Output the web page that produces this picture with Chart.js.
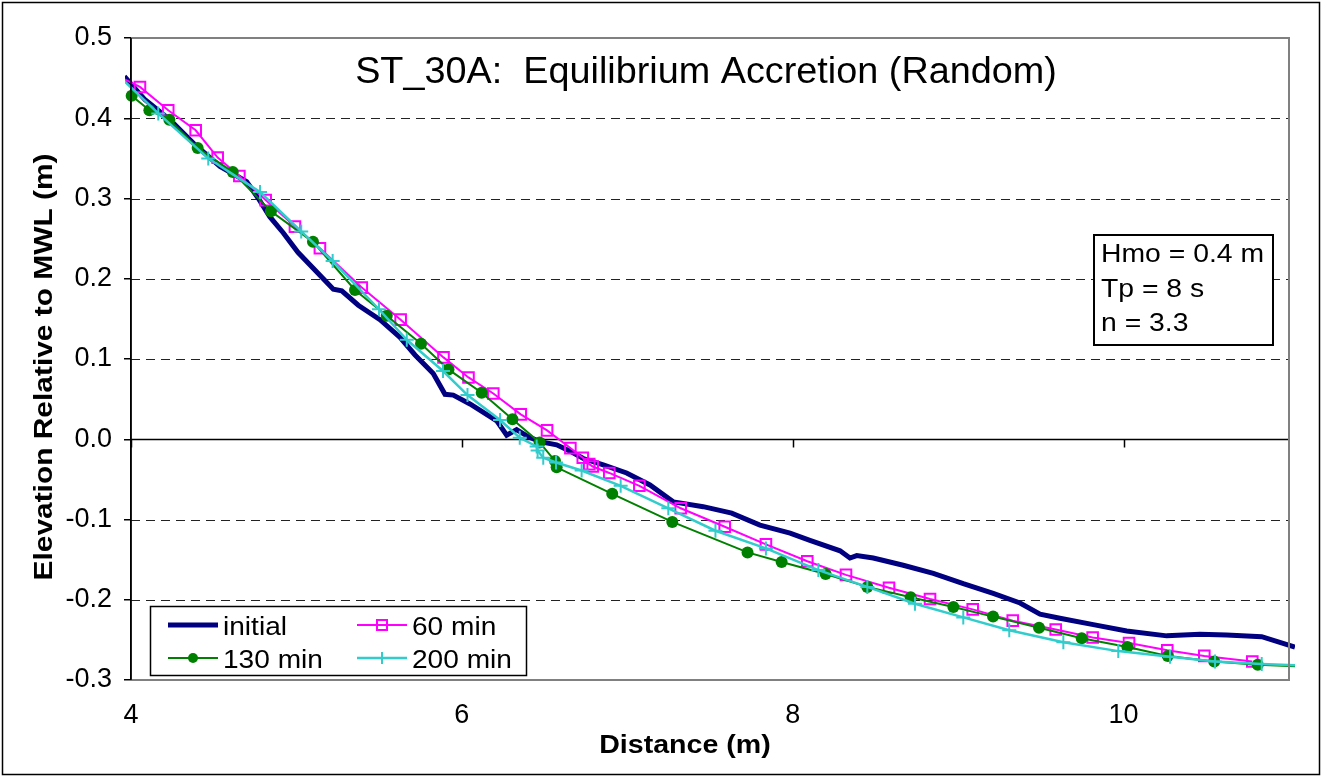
<!DOCTYPE html>
<html>
<head>
<meta charset="utf-8">
<script src="https://cdn.jsdelivr.net/npm/chart.js@4.4.1/dist/chart.umd.min.js"></script>
<style>
  html, body { margin: 0; padding: 0; background: #fff; }
  #wrap { width: 1322px; height: 777px; }
</style>
</head>
<body>
<div id="wrap"><canvas id="c" width="1322" height="777"></canvas></div>
<script>
// ---- data ----
const seriesNames = ['initial', '60 min', '130 min', '200 min'];
const xTicks = [4, 6, 8, 10];
const yTicks = [-0.3, -0.2, -0.1, 0.0, 0.1, 0.2, 0.3, 0.4, 0.5];
const chartTitle = 'ST_30A:  Equilibrium Accretion (Random)';
const noteLines = ['Hmo = 0.4 m', 'Tp = 8 s', 'n = 3.3'];

const xInitial = [3.96, 4.085, 4.236, 4.387, 4.538, 4.598, 4.699, 4.770, 4.840, 4.921, 5.009, 5.223, 5.274, 5.374,
  5.505, 5.626, 5.717, 5.827, 5.898, 5.948, 6.049, 6.211, 6.271, 6.331, 6.402, 6.472, 6.573, 6.664, 6.734,
  6.855, 6.996, 7.137, 7.278, 7.307, 7.459, 7.631, 7.802, 7.984, 8.104, 8.286, 8.346, 8.387, 8.487, 8.668,
  8.850, 9.031, 9.212, 9.374, 9.495, 9.615, 9.817, 10.019, 10.261, 10.462, 10.623, 10.835, 11.036];
const yInitial = [0.452, 0.423, 0.398, 0.367, 0.340, 0.333, 0.321, 0.300, 0.277, 0.257, 0.233, 0.187, 0.185, 0.167,
  0.149, 0.127, 0.105, 0.082, 0.056, 0.055, 0.044, 0.023, 0.005, 0.012, 0.003, -0.003, -0.007, -0.016, -0.024,
  -0.032, -0.042, -0.057, -0.078, -0.079, -0.084, -0.092, -0.107, -0.117, -0.126, -0.139, -0.148, -0.145, -0.148, -0.157,
  -0.167, -0.180, -0.192, -0.204, -0.218, -0.223, -0.231, -0.239, -0.245, -0.243, -0.244, -0.246, -0.259];

const x60 = [3.85, 4.054, 4.225, 4.391, 4.524, 4.655, 4.814, 4.991, 5.142, 5.395, 5.630, 5.889, 6.040, 6.190,
  6.356, 6.515, 6.656, 6.731, 6.770, 6.791, 6.891, 7.073, 7.323, 7.589, 7.838, 8.088, 8.322, 8.582, 8.830,
  9.088, 9.330, 9.590, 9.813, 10.033, 10.264, 10.488, 10.778];
const y60 = [0.460, 0.439, 0.410, 0.385, 0.351, 0.328, 0.298, 0.265, 0.238, 0.189, 0.149, 0.102, 0.077, 0.057,
  0.031, 0.011, -0.011, -0.023, -0.031, -0.034, -0.042, -0.058, -0.086, -0.109, -0.131, -0.152, -0.169, -0.185, -0.199,
  -0.212, -0.226, -0.237, -0.247, -0.254, -0.263, -0.270, -0.277];

const x130 = [4.004, 4.111, 4.232, 4.403, 4.615, 4.846, 5.100, 5.354, 5.546, 5.753, 5.919, 6.120, 6.306, 6.470,
  6.563, 6.573, 6.909, 7.272, 7.727, 7.933, 8.199, 8.451, 8.713, 8.971, 9.211, 9.489, 9.747, 10.023, 10.267,
  10.548, 10.811, 11.2];
const y130 = [0.428, 0.410, 0.398, 0.363, 0.333, 0.284, 0.246, 0.186, 0.154, 0.119, 0.087, 0.058, 0.025, -0.004,
  -0.027, -0.035, -0.068, -0.103, -0.141, -0.153, -0.168, -0.184, -0.197, -0.209, -0.221, -0.235, -0.248, -0.259, -0.270,
  -0.277, -0.281, -0.284];

const x200 = [3.9, 4.165, 4.467, 4.780, 5.029, 5.219, 5.499, 5.667, 5.886, 6.034, 6.231, 6.350, 6.452, 6.458, 6.492,
  6.569, 6.724, 6.960, 7.248, 7.533, 7.838, 8.155, 8.451, 8.739, 9.031, 9.309, 9.636, 9.968, 10.281, 10.553,
  10.835, 11.2];
const y200 = [0.458, 0.406, 0.350, 0.308, 0.259, 0.222, 0.162, 0.124, 0.085, 0.055, 0.024, 0.002, -0.009, -0.014, -0.023,
  -0.029, -0.039, -0.058, -0.086, -0.114, -0.136, -0.163, -0.184, -0.205, -0.222, -0.238, -0.253, -0.264, -0.271, -0.277,
  -0.280, -0.283];

const colors = ['#000080', '#ff00ff', '#008000', '#33cccc'];
const FONT = '"Liberation Sans", Arial, sans-serif';

const pts = (xs, ys) => xs.map((x, i) => ({ x: x, y: ys[i] }));
const clipBox = { left: 6, right: 6, top: 0, bottom: 0 };

// text with optional horizontal stretch (the source picture is a bit wide)
function text(ctx, str, x, y, size, bold, align, sx) {
  ctx.save();
  ctx.font = (bold ? 'bold ' : '') + size + 'px ' + FONT;
  ctx.fillStyle = '#000';
  ctx.textBaseline = 'alphabetic';
  ctx.textAlign = align || 'left';
  ctx.translate(x, y);
  ctx.scale(sx || 1, 1);
  ctx.fillText(str, 0, 0);
  ctx.restore();
}

function marker(ctx, kind, x, y, r, color) {
  ctx.save();
  ctx.strokeStyle = color;
  ctx.fillStyle = color;
  ctx.lineWidth = 2;
  ctx.beginPath();
  if (kind === 'rect') {
    ctx.rect(x - r, y - r, 2 * r, 2 * r);
    ctx.stroke();
  } else if (kind === 'circle') {
    ctx.arc(x, y, r, 0, Math.PI * 2);
    ctx.fill();
  } else if (kind === 'cross') {
    ctx.moveTo(x - r, y); ctx.lineTo(x + r, y);
    ctx.moveTo(x, y - r); ctx.lineTo(x, y + r);
    ctx.stroke();
  }
  ctx.restore();
}

const decor = {
  id: 'decor',
  beforeDraw(chart) {
    const ctx = chart.ctx;
    ctx.save();
    ctx.fillStyle = '#fff';
    ctx.fillRect(0, 0, chart.width, chart.height);
    ctx.restore();
  },
  beforeDatasetsDraw(chart) {
    const { ctx, chartArea: a, scales: { x, y } } = chart;
    ctx.save();
    // dashed grid lines
    ctx.strokeStyle = '#222';
    ctx.lineWidth = 1;
    ctx.setLineDash([9, 6]);
    yTicks.forEach(v => {
      if (v === 0 || v === yTicks[0] || v === yTicks[yTicks.length - 1]) return;
      const py = Math.round(y.getPixelForValue(v)) + 0.5;
      ctx.beginPath(); ctx.moveTo(a.left, py); ctx.lineTo(a.right, py); ctx.stroke();
    });
    ctx.setLineDash([]);
    // zero line with x tick marks
    const y0 = Math.round(y.getPixelForValue(0)) + 0.5;
    ctx.strokeStyle = '#000';
    ctx.lineWidth = 1.5;
    ctx.beginPath(); ctx.moveTo(a.left, y0); ctx.lineTo(a.right, y0); ctx.stroke();
    xTicks.forEach(v => {
      const px = Math.round(x.getPixelForValue(v)) + 0.5;
      ctx.beginPath(); ctx.moveTo(px, y0); ctx.lineTo(px, y0 + 8); ctx.stroke();
    });
    ctx.restore();
  },
  afterDatasetsDraw(chart) {
    const { ctx, chartArea: a } = chart;
    ctx.save();
    // plot border (top, right, bottom)
    ctx.strokeStyle = '#808080';
    ctx.lineWidth = 2;
    ctx.beginPath();
    ctx.moveTo(a.left, a.top); ctx.lineTo(a.right, a.top);
    ctx.lineTo(a.right, a.bottom); ctx.lineTo(a.left, a.bottom);
    ctx.stroke();
    // y axis line
    ctx.strokeStyle = '#000';
    ctx.lineWidth = 1.5;
    ctx.beginPath(); ctx.moveTo(a.left, a.top); ctx.lineTo(a.left, a.bottom); ctx.stroke();

    // title
    text(ctx, chartTitle, 706, 83, 36, false, 'center', 1.05);

    // note box
    ctx.fillStyle = '#fff';
    ctx.fillRect(1094, 235, 179, 110);
    ctx.strokeStyle = '#000';
    ctx.lineWidth = 2;
    ctx.strokeRect(1094, 235, 179, 110);
    noteLines.forEach((s, i) => text(ctx, s, 1101, 262 + i * 34.5, 26, false, 'left', 1.09));

    // legend
    ctx.fillStyle = '#fff';
    ctx.fillRect(150, 606, 377, 70);
    ctx.strokeStyle = '#000';
    ctx.lineWidth = 1.5;
    ctx.strokeRect(150.5, 606.5, 376, 69);
    const items = [
      { col: 0, row: 0, w: 5, mk: null },
      { col: 1, row: 0, w: 2, mk: 'rect', r: 5 },
      { col: 0, row: 1, w: 2, mk: 'circle', r: 5 },
      { col: 1, row: 1, w: 2.5, mk: 'cross', r: 6 }
    ];
    items.forEach((it, i) => {
      const x0 = it.col ? 357 : 168;
      const cy = it.row ? 658 : 625;
      ctx.strokeStyle = colors[i];
      ctx.lineWidth = it.w;
      ctx.beginPath(); ctx.moveTo(x0, cy); ctx.lineTo(x0 + 50, cy); ctx.stroke();
      if (it.mk) marker(ctx, it.mk, x0 + 25, cy, it.r, colors[i]);
      text(ctx, seriesNames[i], x0 + 55, cy + 10, 26, false, 'left', 1.08);
    });

    // axis titles
    text(ctx, 'Distance (m)', 685, 753, 26, true, 'center', 1.1);
    ctx.save();
    ctx.translate(52, 367);
    ctx.rotate(-Math.PI / 2);
    text(ctx, 'Elevation Relative to MWL (m)', 0, 0, 26, true, 'center', 1.15);
    ctx.restore();

    // outer frame
    ctx.strokeStyle = '#000';
    ctx.lineWidth = 1.5;
    ctx.strokeRect(2.5, 2.5, 1317, 772);
    ctx.restore();
  }
};

new Chart(document.getElementById('c'), {
  type: 'line',
  data: {
    datasets: [
      { label: seriesNames[0], data: pts(xInitial, yInitial), borderColor: colors[0], borderWidth: 5,
        pointRadius: 0, tension: 0, clip: clipBox, order: 4 },
      { label: seriesNames[1], data: pts(x60, y60), borderColor: colors[1], borderWidth: 2,
        pointStyle: 'rect', pointRadius: 7.5, pointBorderWidth: 2, pointBorderColor: colors[1],
        pointBackgroundColor: 'rgba(0,0,0,0)', tension: 0, clip: clipBox, order: 3 },
      { label: seriesNames[2], data: pts(x130, y130), borderColor: colors[2], borderWidth: 2,
        pointStyle: 'circle', pointRadius: 6, pointBorderWidth: 0, pointBackgroundColor: colors[2],
        tension: 0, clip: clipBox, order: 2 },
      { label: seriesNames[3], data: pts(x200, y200), borderColor: colors[3], borderWidth: 2.5,
        pointStyle: 'cross', pointRadius: 7, pointBorderWidth: 2, pointBorderColor: colors[3],
        tension: 0, clip: clipBox, order: 1 }
    ]
  },
  options: {
    responsive: false,
    animation: false,
    layout: { padding: { top: 38, right: 33, left: 0, bottom: 0 } },
    plugins: { legend: { display: false }, title: { display: false }, tooltip: { enabled: false } },
    scales: {
      x: {
        type: 'linear', min: 4, max: 11,
        afterBuildTicks: s => { s.ticks = xTicks.map(v => ({ value: v })); },
        afterFit: s => { s.height = 97; },
        grid: { display: false },
        border: { display: false },
        ticks: { color: '#000', padding: 11, font: { family: FONT, size: 27 } }
      },
      y: {
        type: 'linear', min: -0.3, max: 0.5,
        afterBuildTicks: s => { s.ticks = yTicks.map(v => ({ value: v })); },
        afterFit: s => { s.width = 131; },
        grid: { drawOnChartArea: false, drawTicks: true, tickLength: 7, color: '#000', lineWidth: 1.5 },
        border: { display: true, color: '#000', width: 1.5 },
        ticks: { color: '#000', padding: 12, font: { family: FONT, size: 27 },
          callback: v => Number(v).toFixed(1) }
      }
    }
  },
  plugins: [decor]
});
</script>
</body>
</html>
